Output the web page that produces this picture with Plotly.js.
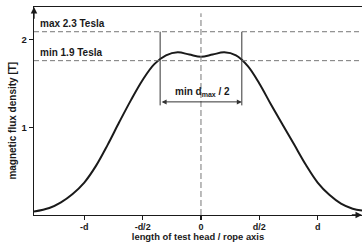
<!DOCTYPE html>
<html><head><meta charset="utf-8">
<script src="https://cdn.plot.ly/plotly-3.0.1.min.js"></script>
<style>html,body{margin:0;padding:0;background:#fff;}#chart{width:362px;height:242px;}</style>
</head><body><div id="chart"></div>
<script>
// position along axis, in units of d
const posX = [-1.431, -1.3, -1.2, -1.1, -1.0, -0.9, -0.8, -0.7, -0.6, -0.5, -0.4, -0.3, -0.2, -0.1, 0, 0.1, 0.2, 0.3, 0.4, 0.5, 0.6, 0.7, 0.8, 0.9, 1.0, 1.1, 1.2, 1.3, 1.38];
// magnetic flux density [T]
const fluxB = [0.04, 0.08, 0.145, 0.24, 0.37, 0.56, 0.80, 1.06, 1.31, 1.54, 1.72, 1.82, 1.855, 1.83, 1.805, 1.83, 1.855, 1.82, 1.70, 1.50, 1.26, 1.03, 0.80, 0.57, 0.37, 0.23, 0.13, 0.072, 0.05];
const xTickVals = [-1, -0.5, 0, 0.5, 1];
const xTickText = ['-d', '-d/2', '0', 'd/2', 'd'];
const yTickVals = [1, 2];
const yTickText = ['1', '2'];
const levelValues = [2.09, 1.76];
const levelLabels = ['max 2.3 Tesla', 'min 1.9 Tesla'];
const widthMarks = [-0.35, 0.35];
const widthLabel = 'min d<sub>max</sub> / 2';

const xRange = [-1.431, 1.38];
const yRange = [0, 2.372];
const ink = '#1a1a1a';
const dashGray = '#777';

const shapes = [];
levelValues.forEach(v => shapes.push({type:'line', xref:'paper', yref:'y', x0:0, x1:1, y0:v, y1:v,
  line:{color:dashGray, width:1, dash:'5px,3px'}}));
shapes.push({type:'line', xref:'x', yref:'y', x0:0, x1:0, y0:0, y1:2.30,
  line:{color:dashGray, width:1, dash:'6px,3px'}});
widthMarks.forEach(m => shapes.push({type:'line', xref:'x', yref:'y', x0:m, x1:m, y0:1.25, y1:levelValues[0],
  line:{color:'#333', width:1}}));

const annotations = [];
levelLabels.forEach((t, i) => annotations.push({xref:'x', yref:'y', x:xRange[0] + 0.03, y:levelValues[i] + 0.09,
  text:t, showarrow:false, xanchor:'left', yanchor:'middle', font:{size:10, color:ink, weight:'bold'}}));
annotations.push({xref:'x', yref:'y', x:(widthMarks[0] + widthMarks[1]) / 2 + 0.01, y:1.40, text:widthLabel,
  showarrow:false, xanchor:'center', yanchor:'middle', font:{size:10, color:ink, weight:'bold'}});
annotations.push({xref:'x', yref:'y', axref:'x', ayref:'y', x:widthMarks[1], y:1.29, ax:widthMarks[0], ay:1.29,
  text:'', showarrow:true, arrowhead:2, arrowside:'end+start', arrowsize:1, arrowwidth:1, arrowcolor:'#333',
  standoff:0, startstandoff:0});
// axis arrows
annotations.push({xref:'x', yref:'y', axref:'x', ayref:'y', x:xRange[1], y:0, ax:xRange[1] - 0.1, ay:0,
  text:'', showarrow:true, arrowhead:2, arrowsize:1, arrowwidth:1.3, arrowcolor:ink});
annotations.push({xref:'x', yref:'y', axref:'x', ayref:'y', x:xRange[0], y:yRange[1], ax:xRange[0], ay:yRange[1] - 0.15,
  text:'', showarrow:true, arrowhead:2, arrowsize:1, arrowwidth:1.3, arrowcolor:ink});

const trace = {x: posX, y: fluxB, type:'scatter', mode:'lines', line:{color:ink, width:2, shape:'spline', smoothing:1},
  hoverinfo:'skip', showlegend:false, cliponaxis:false};

const layout = {
  width:362, height:242,
  margin:{l:34, r:0, t:7, b:27},
  paper_bgcolor:'#fff', plot_bgcolor:'#fff',
  font:{family:'"Liberation Sans", Arial, sans-serif', size:10, color:ink, weight:'bold'},
  showlegend:false,
  xaxis:{range:xRange, tickvals:xTickVals, ticktext:xTickText, showgrid:false, zeroline:false,
    showline:true, linecolor:ink, linewidth:1.3, mirror:true, ticks:'outside', ticklen:4, tickwidth:1.2, tickcolor:ink,
    ticklabelstandoff:-1,
    tickfont:{size:9, weight:'bold'},
    title:{text:'length of test head / rope axis', font:{size:9.4, weight:'bold'}, standoff:3}},
  yaxis:{range:yRange, tickvals:yTickVals, ticktext:yTickText, showgrid:false, zeroline:false,
    showline:true, linecolor:ink, linewidth:1.3, mirror:false, ticks:'outside', ticklen:4, tickwidth:1.2, tickcolor:ink,
    tickfont:{size:9.5, weight:'bold'},
    title:{text:'magnetic flux density [T]&nbsp;&nbsp;&nbsp;&nbsp;&nbsp;&nbsp;&nbsp;', font:{size:10, weight:'bold'}, standoff:3}},
  shapes: shapes,
  annotations: annotations
};
Plotly.newPlot('chart', [trace], layout, {staticPlot:true, displayModeBar:false});
</script></body></html>
